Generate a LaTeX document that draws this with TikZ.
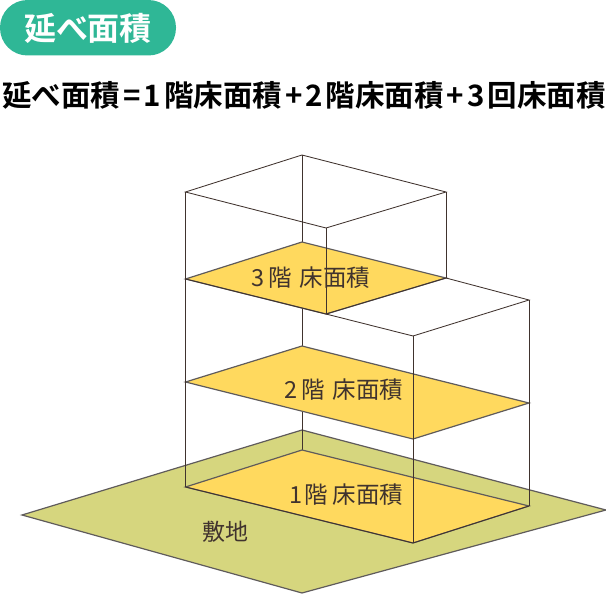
\documentclass[tikz,border=0pt]{standalone}
\usepackage{fontspec}
\setmainfont{Noto Sans CJK JP}
\newfontfamily\jpbold{Noto Sans CJK JP Bold}
\usetikzlibrary{positioning}
\definecolor{sitegreen}{HTML}{D6D67E}
\definecolor{flooryellow}{HTML}{FFD95E}
\definecolor{pillgreen}{HTML}{2FB796}
\definecolor{wireink}{HTML}{40332E}
\definecolor{edgegray}{HTML}{5F5B5B}
\newcommand{\opgap}{\hspace{3pt}}
\newcommand{\numgap}{\hspace{3pt}}

\begin{document}
\begin{tikzpicture}[x=1pt,y=-1pt,line join=miter]
		\tikzstyle{wire}=[draw=wireink,line width=0.85pt]
		\tikzstyle{edge}=[draw=edgegray,line width=1.2pt]
		\tikzstyle{floor}=[fill=flooryellow]
		\tikzstyle{label}=[inner sep=0pt,anchor=east,text=wireink,font=\fontsize{23.5}{25}\selectfont]
		
		\useasboundingbox (0,0) rectangle (606,594);
		
		% site corners
		\coordinate (s_l) at (22,515);
		\coordinate (s_b) at (302,430);
		\coordinate (s_r) at (606,510);
		\coordinate (s_f) at (302,593);
		% roof
		\coordinate (r_l) at (185.5,192);
		\coordinate (r_b) at (302,155);
		\coordinate (r_r) at (446,192);
		\coordinate (r_f) at (326,228);
		% 3rd floor
		\coordinate (f3_l) at (185.5,279);
		\coordinate (f3_b) at (302,242);
		\coordinate (f3_r) at (446,278);
		\coordinate (f3_f) at (326,314);
		% lower roof
		\coordinate (m_r) at (529,300);
		\coordinate (m_f) at (413,336);
		% 2nd floor
		\coordinate (f2_l) at (185.5,382);
		\coordinate (f2_b) at (302,346);
		\coordinate (f2_r) at (529,403);
		\coordinate (f2_f) at (413,439);
		% 1st floor
		\coordinate (f1_l) at (185.5,487);
		\coordinate (f1_b) at (302,450);
		\coordinate (f1_r) at (529,506);
		\coordinate (f1_f) at (413,543);
		
		\fill[pillgreen] (0,0) [rounded corners=27.5pt] rectangle (176,55.5);
		\node[inner sep=0pt,text=white,font=\jpbold\fontsize{32}{34}\selectfont] (badge) at (88,28) {延べ面積};
		\node[inner sep=0pt,text=black,font=\jpbold\fontsize{29.5}{31}\selectfont] (formula) at (304,95) {延べ面積\opgap=\opgap 1\opgap 階床面積\opgap+\opgap 2\opgap 階床面積\opgap+\opgap 3\opgap 回床面積};
		
		\draw[edge,fill=sitegreen] (s_l) -- (s_b) -- (s_r) -- (s_f) -- cycle;
		\draw[wire] (r_b) -- (f1_b);
		
		\draw[edge,floor] (f3_l) -- (f3_b) -- (f3_r) -- (f3_f) -- cycle;
		\draw[edge,floor] (f2_l) -- (f2_b) -- (f2_r) -- (f2_f) -- cycle;
		\draw[edge,floor] (f1_l) -- (f1_b) -- (f1_r) -- (f1_f) -- cycle;
		
		\draw[wire] (r_l) -- (r_b) -- (r_r) -- (r_f) -- cycle;
		\draw[wire] (r_l) -- (f1_l);
		\draw[wire] (r_r) -- (f3_r);
		\draw[wire] (r_f) -- (f3_f);
		\draw[wire] (f3_r) -- (m_r) -- (m_f) -- (f3_f);
		\draw[wire] (m_r) -- (f1_r);
		\draw[wire] (m_f) -- (f1_f);
		\draw[wire] (f3_l) -- (f3_f) -- (f3_r);
		\draw[wire] (f1_l) -- (f1_f) -- (f1_r);
		
		\node[label] (floor_3) at (370.5,278) {3\numgap 階\numgap~床面積};
		\node[label] (floor_2) at (403.5,390) {2\numgap 階\numgap~床面積};
		\node[label] (floor_1) at (403.5,495) {1\hspace{1pt}階~床面積};
		\node[label,font=\fontsize{23}{25}\selectfont] (site) at (248.5,532) {敷地};
		
	\end{tikzpicture}
\end{document}
